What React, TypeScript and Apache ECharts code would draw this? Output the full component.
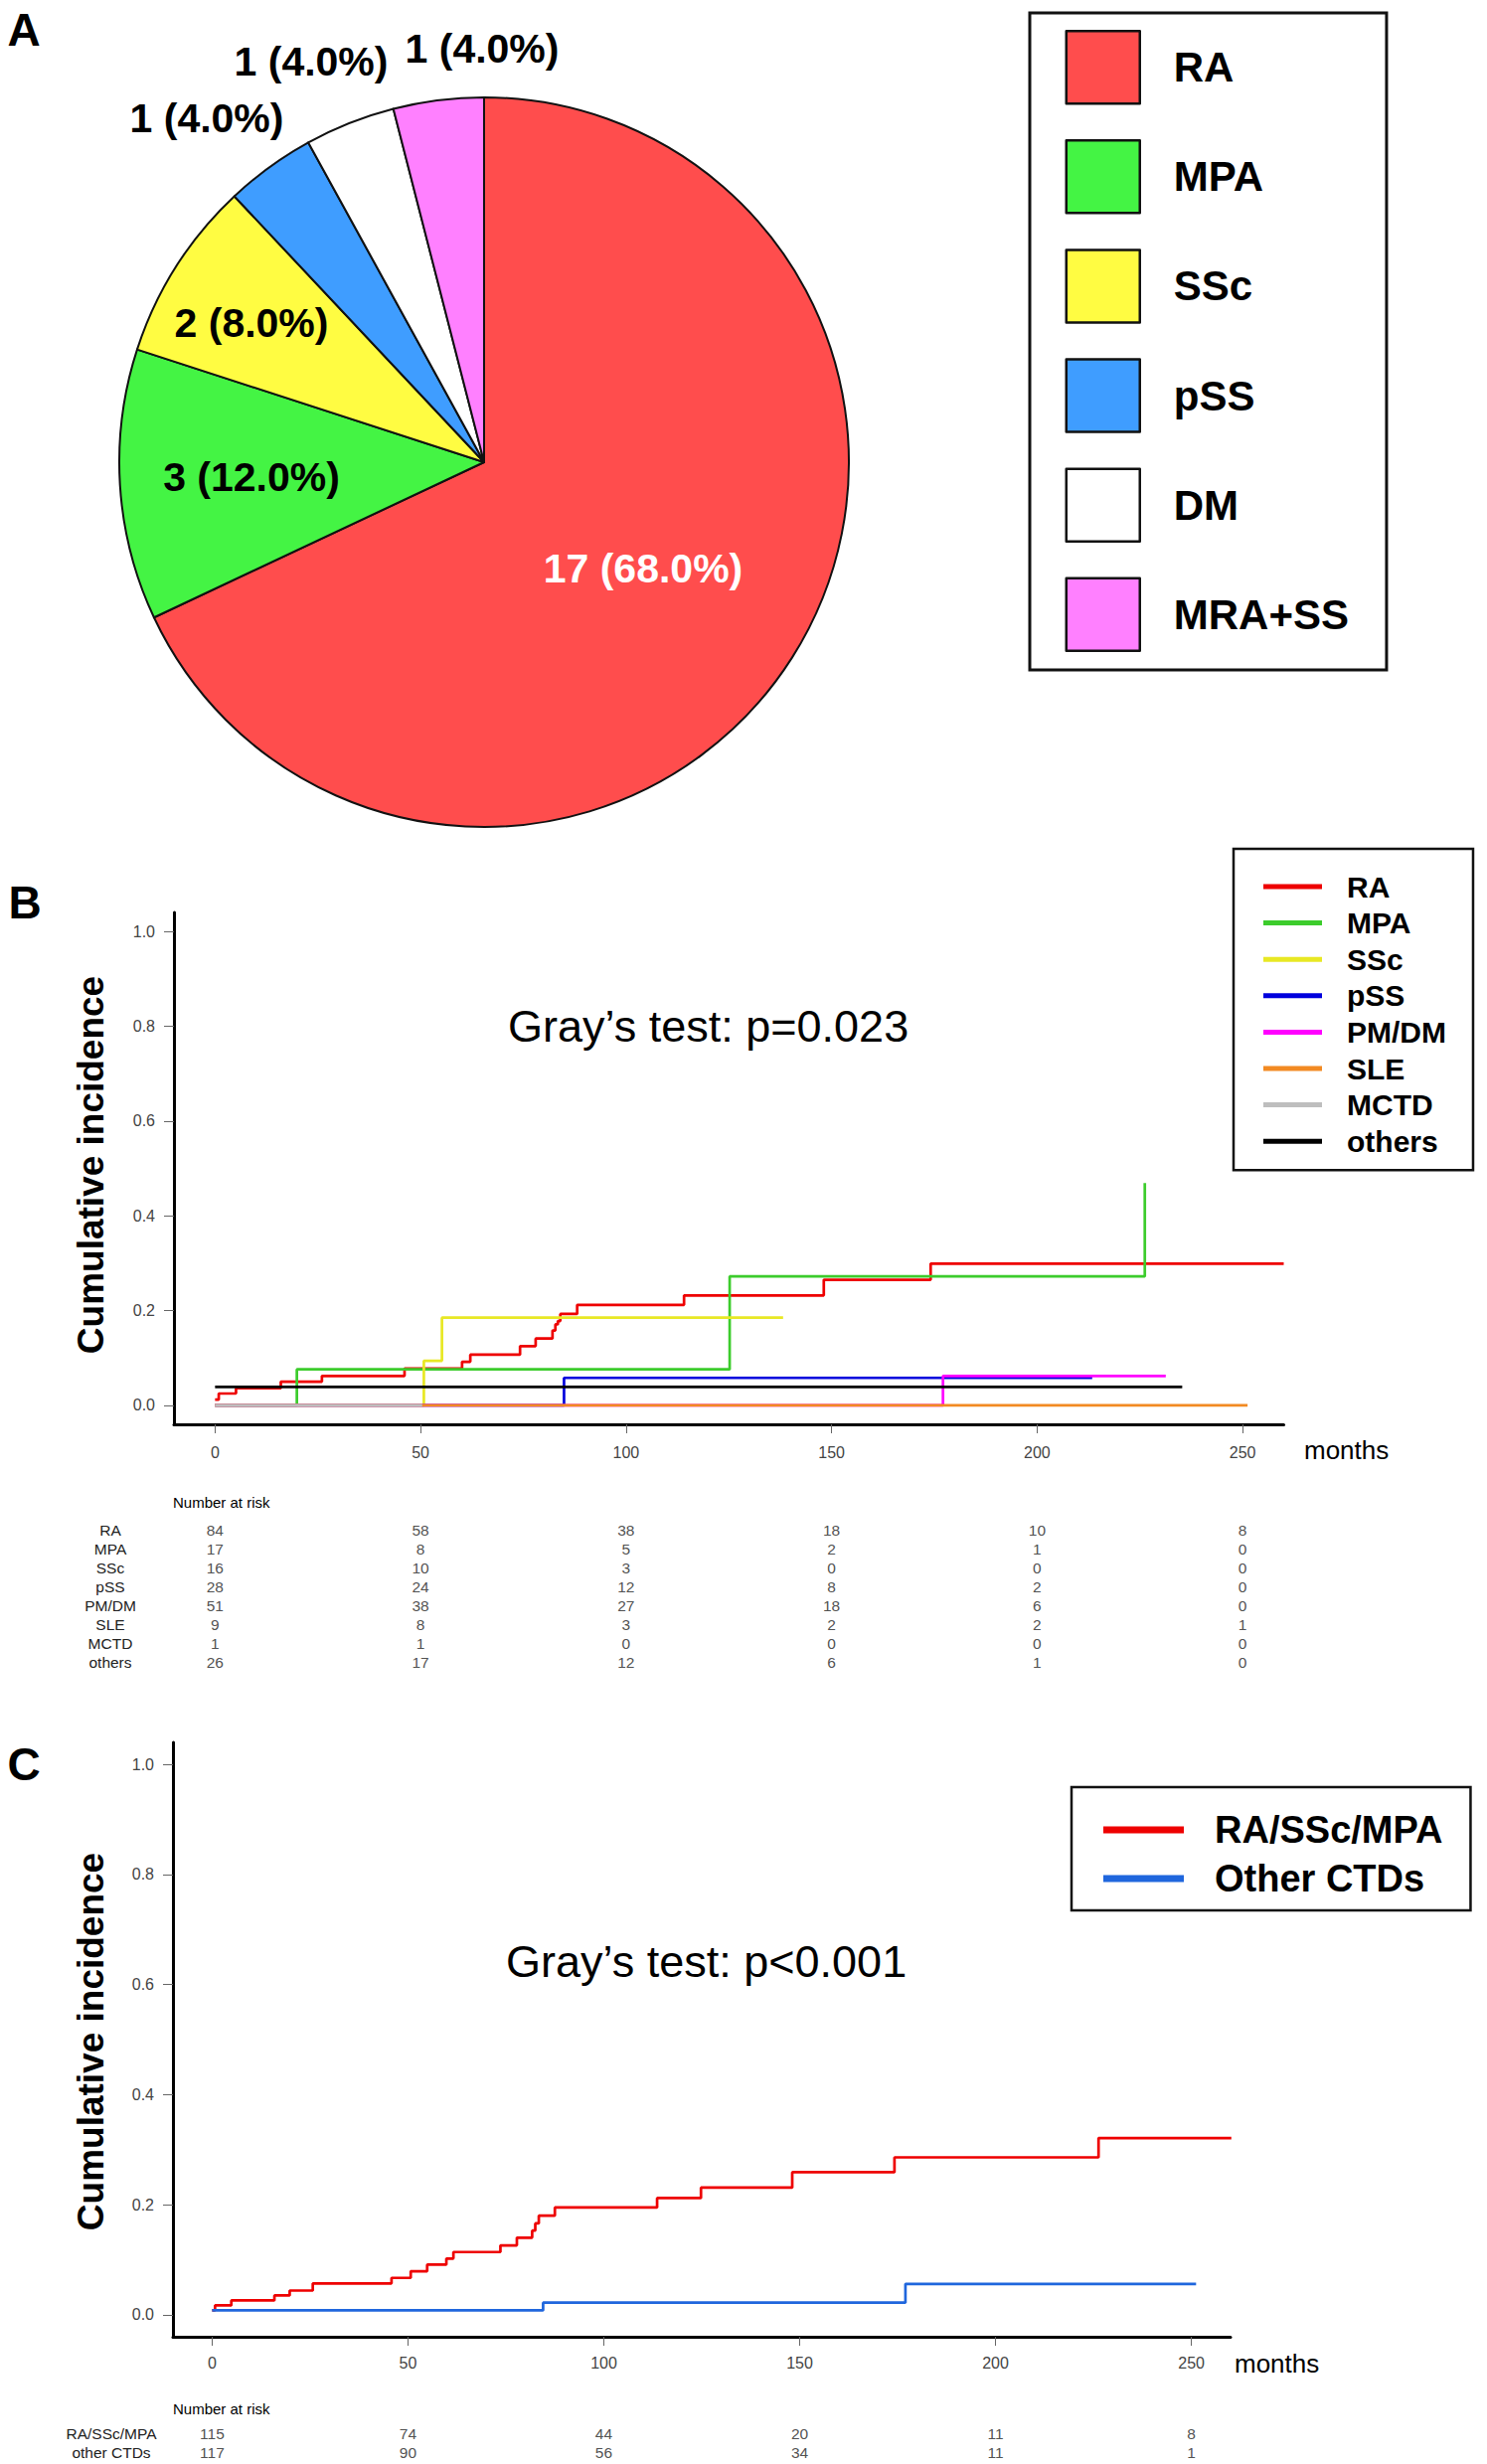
import React, { useEffect, useRef } from "react";
import * as echarts from "echarts";

const FONT = "'Liberation Sans', Arial, Helvetica, sans-serif";

// ---------- Panel A (pie) ----------
const PIE_NAMES = ["RA", "MPA", "SSc", "pSS", "DM", "MRA+SS"];
const PIE_COUNTS = [17, 3, 2, 1, 1, 1];
const PIE_COLORS = ["#ff4d4d", "#44f444", "#fffc42", "#3f9dff", "#ffffff", "#ff80ff"];
const PIE_LABEL_COLORS = ["#ffffff", "#000000", "#000000", "#000000", "#000000", "#000000"];
// label anchor offsets from the pie centre (layout only)
const PIE_LABEL_OFFSETS = [
  [160, 107],
  [-234, 15],
  [-234, -140],
  [-279, -346],
  [-174, -403],
  [-2, -416],
];

// ---------- Panel B (cumulative incidence by disease) ----------
const B_NAMES = ["RA", "MPA", "SSc", "pSS", "PM/DM", "SLE", "MCTD", "others"];
const B_COLORS = ["#ee0000", "#3ccc2c", "#e8e824", "#0000dd", "#ff00ff", "#f28a22", "#bebebe", "#000000"];

const B_RA_T = [0, 0.9, 5.1, 16.0, 26.0, 46.1, 60.1, 62.1, 74.2, 78.0, 82.1, 82.8, 83.4, 84.0, 88.1, 114.1, 148.1, 174.1, 260.0];
const B_RA_V = [0.012, 0.025, 0.036, 0.05, 0.062, 0.078, 0.092, 0.107, 0.125, 0.141, 0.158, 0.171, 0.178, 0.193, 0.212, 0.232, 0.265, 0.299, 0.299];
const B_MPA_T = [0, 19.9, 125.2, 226.2];
const B_MPA_V = [0, 0.076, 0.272, 0.469];
const B_SSC_T = [0, 50.8, 55.2, 138.2];
const B_SSC_V = [0, 0.094, 0.185, 0.185];
const B_PSS_T = [0, 84.9, 213.4];
const B_PSS_V = [0, 0.058, 0.058];
const B_PMDM_T = [0, 177.1, 231.3];
const B_PMDM_V = [0, 0.062, 0.062];
const B_SLE_T = [0, 251.2];
const B_SLE_V = [0, 0];
const B_MCTD_T = [0, 50.4];
const B_MCTD_V = [0, 0];
const B_OTHERS_T = [0, 235.3];
const B_OTHERS_V = [0.039, 0.039];

// ---------- Panel C (grouped) ----------
const C_NAMES = ["RA/SSc/MPA", "Other CTDs"];
const C_COLORS = ["#ee0000", "#1f66dd"];
const C_1_T = [0, 0.74, 4.9, 15.9, 19.8, 25.7, 45.8, 50.7, 54.9, 59.8, 61.6, 73.6, 77.8, 81.7, 82.5, 83.4, 87.5, 113.6, 124.8, 148.1, 174.2, 226.3, 260.2];
const C_1_V = [0.008, 0.017, 0.026, 0.035, 0.044, 0.057, 0.067, 0.079, 0.091, 0.102, 0.114, 0.126, 0.14, 0.153, 0.166, 0.18, 0.195, 0.212, 0.231, 0.259, 0.286, 0.321, 0.321];
const C_2_T = [0, 84.5, 177.0, 251.2];
const C_2_V = [0.008, 0.022, 0.056, 0.056];

// ---------- Axes ticks ----------
const X_TICKS = [0, 50, 100, 150, 200, 250];
const Y_TICKS = [0, 0.2, 0.4, 0.6, 0.8, 1.0];

// ---------- Number at risk ----------
const RISK_TIMES = [0, 50, 100, 150, 200, 250];
const RISK_B_RA = [84, 58, 38, 18, 10, 8];
const RISK_B_MPA = [17, 8, 5, 2, 1, 0];
const RISK_B_SSC = [16, 10, 3, 0, 0, 0];
const RISK_B_PSS = [28, 24, 12, 8, 2, 0];
const RISK_B_PMDM = [51, 38, 27, 18, 6, 0];
const RISK_B_SLE = [9, 8, 3, 2, 2, 1];
const RISK_B_MCTD = [1, 1, 0, 0, 0, 0];
const RISK_B_OTHERS = [26, 17, 12, 6, 1, 0];
const RISK_C_NAMES = ["RA/SSc/MPA", "other CTDs"];
const RISK_C_1 = [115, 74, 44, 20, 11, 8];
const RISK_C_2 = [117, 90, 56, 34, 11, 1];

const zip = (t: number[], v: number[]) => t.map((x, i) => [x, v[i]]);

function buildOption() {
  const total = PIE_COUNTS.reduce((a, b) => a + b, 0);
  const PIE_CX = 487;
  const PIE_CY = 465;

  const bCurves = [
    [B_RA_T, B_RA_V],
    [B_MPA_T, B_MPA_V],
    [B_SSC_T, B_SSC_V],
    [B_PSS_T, B_PSS_V],
    [B_PMDM_T, B_PMDM_V],
    [B_SLE_T, B_SLE_V],
    [B_MCTD_T, B_MCTD_V],
    [B_OTHERS_T, B_OTHERS_V],
  ];
  const cCurves = [
    [C_1_T, C_1_V],
    [C_2_T, C_2_V],
  ];
  const riskB = [RISK_B_RA, RISK_B_MPA, RISK_B_SSC, RISK_B_PSS, RISK_B_PMDM, RISK_B_SLE, RISK_B_MCTD, RISK_B_OTHERS];
  const riskC = [RISK_C_1, RISK_C_2];

  const plotX = (gridIndex: number, margin: number) => ({
    type: "value",
    gridIndex,
    min: -10,
    max: 260,
    axisLine: { show: true, onZero: false, lineStyle: { color: "#000", width: 3 } },
    axisTick: { show: true, length: 9, customValues: X_TICKS, lineStyle: { color: "#666", width: 1 } },
    axisLabel: { customValues: X_TICKS, margin, fontSize: 16, color: "#444", fontFamily: FONT },
    splitLine: { show: false },
  });
  const plotY = (gridIndex: number) => ({
    type: "value",
    gridIndex,
    min: -0.04,
    max: 1.04,
    axisLine: { show: true, onZero: false, lineStyle: { color: "#000", width: 3 } },
    axisTick: { show: true, length: 10, customValues: Y_TICKS, lineStyle: { color: "#666", width: 1 } },
    axisLabel: {
      customValues: Y_TICKS,
      margin: 19,
      fontSize: 16,
      color: "#444",
      fontFamily: FONT,
      formatter: (v: number) => v.toFixed(1),
    },
    splitLine: { show: false },
  });
  const riskX = (gridIndex: number) => ({ type: "value", gridIndex, min: -10, max: 260, show: false });
  const riskY = (gridIndex: number, names: string[], margin: number) => ({
    type: "category",
    gridIndex,
    data: names,
    inverse: true,
    axisLine: { show: false },
    axisTick: { show: false },
    splitLine: { show: false },
    axisLabel: { interval: 0, margin, align: "center", fontSize: 15.5, color: "#222", fontFamily: FONT },
  });

  const riskSeries = (rows: number[][], xi: number) => ({
    type: "scatter",
    xAxisIndex: xi,
    yAxisIndex: xi,
    symbolSize: 1,
    silent: true,
    itemStyle: { color: "rgba(0,0,0,0)" },
    data: rows.flatMap((row, r) => row.map((n, c) => [RISK_TIMES[c], r, n])),
    label: {
      show: true,
      position: "inside",
      formatter: (p: any) => String(p.value[2]),
      fontSize: 15.5,
      color: "#222",
      fontFamily: FONT,
    },
  });

  const text = (t: string, x: number, y: number, size: number, weight: string, extra: any = {}) => ({
    type: "text",
    x,
    y,
    silent: true,
    ...extra,
    style: {
      text: t,
      fontSize: size,
      fontWeight: weight,
      fontFamily: FONT,
      fill: "#000",
      align: extra.align || "left",
      verticalAlign: "middle",
    },
  });

  return {
    animation: false,
    backgroundColor: "#ffffff",
    grid: [
      { left: 175, top: 918, width: 1116.5, height: 515 },
      { left: 174, top: 1753, width: 1064, height: 598 },
      { left: 175, top: 1529.5, width: 1116.5, height: 152 },
      { left: 174, top: 2438.5, width: 1064, height: 38 },
    ],
    xAxis: [plotX(0, 20), plotX(1, 18), riskX(2), riskX(3)],
    yAxis: [plotY(0), plotY(1), riskY(2, B_NAMES, 64), riskY(3, RISK_C_NAMES, 62)],
    legend: [
      {
        orient: "vertical",
        left: 1036,
        top: 13,
        padding: [17, 38, 18, 35.5],
        itemWidth: 74,
        itemHeight: 73,
        itemGap: 34.6,
        icon: "rect",
        selectedMode: false,
        borderColor: "#111",
        borderWidth: 3,
        itemStyle: { borderColor: "#111", borderWidth: 2.5 },
        data: PIE_NAMES,
        textStyle: { fontSize: 42, fontWeight: "bold", color: "#000", fontFamily: FONT, padding: [0, 0, 0, 29] },
      },
      {
        orient: "vertical",
        left: 1241,
        top: 854,
        padding: [23, 27, 14, 30],
        itemWidth: 59,
        itemHeight: 5,
        itemGap: 6.6,
        icon: "rect",
        selectedMode: false,
        borderColor: "#111",
        borderWidth: 2.5,
        itemStyle: { borderWidth: 0 },
        data: B_NAMES.map((n) => "B·" + n),
        formatter: (n: string) => n.slice(2),
        textStyle: { fontSize: 30, lineHeight: 30, fontWeight: "bold", color: "#000", fontFamily: FONT, padding: [0, 0, 0, 20] },
      },
      {
        orient: "vertical",
        left: 1078,
        top: 1798,
        padding: [23, 28, 12, 32],
        itemWidth: 81,
        itemHeight: 7,
        itemGap: 9,
        icon: "rect",
        selectedMode: false,
        borderColor: "#111",
        borderWidth: 2.5,
        itemStyle: { borderWidth: 0 },
        data: C_NAMES,
        textStyle: { fontSize: 38, lineHeight: 40, fontWeight: "bold", color: "#000", fontFamily: FONT, padding: [0, 0, 0, 26] },
      },
    ],
    series: [
      {
        type: "pie",
        name: "Diseases",
        center: [PIE_CX, PIE_CY],
        radius: 367,
        startAngle: 90,
        clockwise: true,
        silent: true,
        itemStyle: { borderColor: "#111", borderWidth: 2 },
        label: {
          show: true,
          position: "inside",
          fontSize: 41,
          fontWeight: "bold",
          fontFamily: FONT,
          formatter: (p: any) => `${p.value} (${((p.value / total) * 100).toFixed(1)}%)`,
        },
        labelLine: { show: false },
        labelLayout: (p: any) => {
          const r = p.labelRect;
          const o = PIE_LABEL_OFFSETS[p.dataIndex];
          return {
            dx: PIE_CX + o[0] - (r.x + r.width / 2),
            dy: PIE_CY + o[1] - (r.y + r.height / 2),
          };
        },
        data: PIE_NAMES.map((n, i) => ({
          name: n,
          value: PIE_COUNTS[i],
          itemStyle: { color: PIE_COLORS[i] },
          label: { color: PIE_LABEL_COLORS[i] },
        })),
      },
      ...bCurves.map(([t, v], i) => ({
        type: "line",
        name: "B·" + B_NAMES[i],
        xAxisIndex: 0,
        yAxisIndex: 0,
        step: "end",
        symbol: "none",
        silent: true,
        color: B_COLORS[i],
        lineStyle: { width: 2.7, color: B_COLORS[i] },
        data: zip(t as number[], v as number[]),
      })),
      ...cCurves.map(([t, v], i) => ({
        type: "line",
        name: C_NAMES[i],
        xAxisIndex: 1,
        yAxisIndex: 1,
        step: "end",
        symbol: "none",
        silent: true,
        color: C_COLORS[i],
        lineStyle: { width: 2.7, color: C_COLORS[i] },
        data: zip(t as number[], v as number[]),
      })),
      riskSeries(riskB, 2),
      riskSeries(riskC, 3),
    ],
    graphic: [
      text("A", 24, 30, 46, "bold", { align: "center" }),
      text("B", 25, 908, 46, "bold", { align: "center" }),
      text("C", 24, 1775, 46, "bold", { align: "center" }),
      text("Gray\u2019s test: p=0.023", 511, 1032, 45, "normal"),
      text("Gray\u2019s test: p<0.001", 509, 1973, 45, "normal"),
      text("months", 1312, 1459, 26, "normal"),
      text("months", 1242, 2378, 26, "normal"),
      text("Cumulative incidence", 91, 1172, 37, "bold", { align: "center", rotation: Math.PI / 2 }),
      text("Cumulative incidence", 91, 2054, 37, "bold", { align: "center", rotation: Math.PI / 2 }),
      text("Number at risk", 174, 1511, 15, "normal"),
      text("Number at risk", 174, 2423, 15, "normal"),
    ],
  };
}

export default function App() {
  const ref = useRef<HTMLDivElement>(null);
  useEffect(() => {
    if (!ref.current) return;
    const chart = echarts.init(ref.current, undefined, { renderer: "svg" });
    chart.setOption(buildOption() as any);
    return () => chart.dispose();
  }, []);
  return (
    <div
      ref={ref}
      style={{ position: "absolute", left: 0, top: 0, width: 1496, height: 2479, background: "#fff" }}
    />
  );
}
